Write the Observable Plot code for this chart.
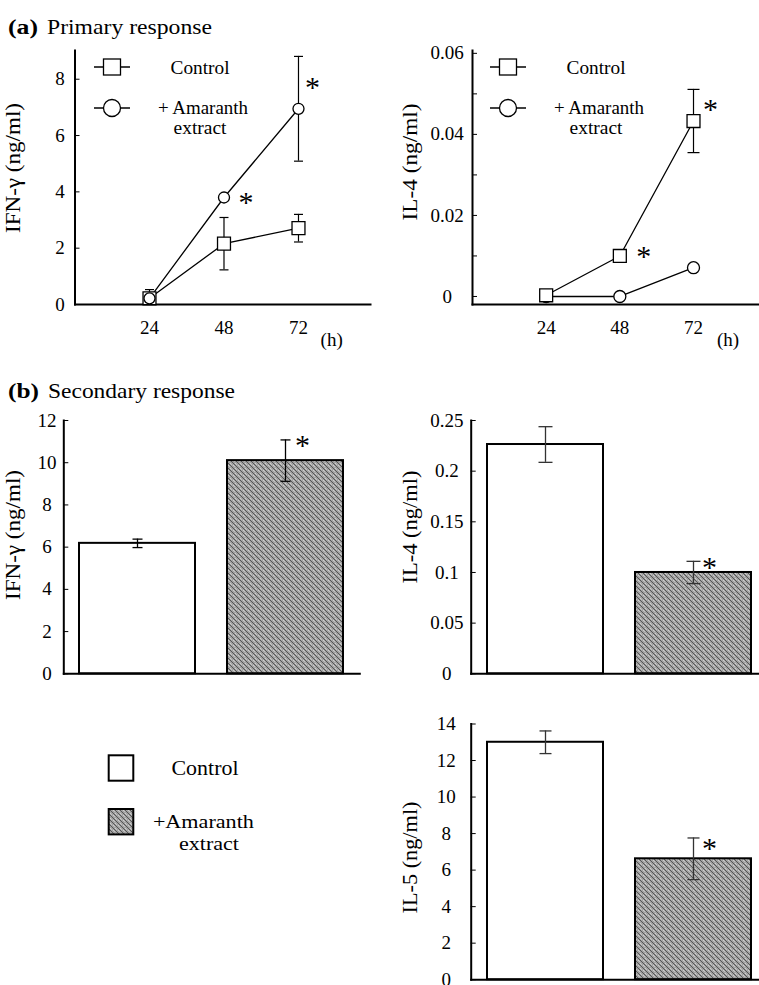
<!DOCTYPE html>
<html><head><meta charset="utf-8">
<script src="https://cdn.jsdelivr.net/npm/d3@7"></script>
<script src="https://cdn.jsdelivr.net/npm/@observablehq/plot@0.6"></script>
<style>
html,body{margin:0;padding:0;background:#fff;overflow:hidden;}
#page{position:relative;width:759px;height:985px;overflow:hidden;font-family:"Liberation Serif","Times New Roman",serif;background:#fff;}
.panel{position:absolute;}
.panel svg, .panel svg text{font-family:"Liberation Serif","Times New Roman",serif;}
#overlay{position:absolute;left:0;top:0;pointer-events:none;}
#overlay text{font-family:"Liberation Serif","Times New Roman",serif;}
</style></head><body><div id="page"></div>
<script>
// ---------- data ----------
const hours = [24, 48, 72];
const hourTicks = [24, 48, 72];
const seriesNames = ["Control", "+ Amaranth extract"];

// (a) primary response, IFN-γ (ng/ml)
const primIFNControl = [0.22, 2.16, 2.71];
const primIFNControlErr = [0.31, 0.93, 0.49];
const primIFNAmaranth = [0.22, 3.80, 6.95];
const primIFNAmaranthErr = [0, 0, 1.86];
const primIFNSigControl = [false, false, false];
const primIFNSigAmaranth = [false, true, true];

// (a) primary response, IL-4 (ng/ml)
const primIL4Control = [0.0003, 0.0100, 0.0433];
const primIL4ControlErr = [0, 0, 0.0078];
const primIL4Amaranth = [0, 0, 0.0071];
const primIL4AmaranthErr = [0, 0, 0];
const primIL4SigControl = [false, true, true];
const primIL4SigAmaranth = [false, false, false];

// (b) secondary response
const groups = ["Control", "+Amaranth extract"];
const secIFN = [6.18, 10.1];
const secIFNErr = [0.2, 0.98];
const secIL4 = [0.2263, 0.100];
const secIL4Err = [0.0176, 0.011];
const secIL5 = [13.0, 6.62];
const secIL5Err = [0.62, 1.14];
const secSig = [false, true];

// tick labels
const ticksIFN1 = [0, 2, 4, 6, 8];
const ticksIL4a = [0, 0.02, 0.04, 0.06];
const minorIL4a = [0.01, 0.03, 0.05];
const ticksIFN2 = [0, 2, 4, 6, 8, 10, 12];
const ticksIL4b = [0, 0.05, 0.1, 0.15, 0.2, 0.25];
const ticksIL5 = [0, 2, 4, 6, 8, 10, 12, 14];

// ---------- helpers ----------
const FONT = '"Liberation Serif", "Times New Roman", serif';
const page = document.getElementById("page");
const capSymbol = {draw(ctx, size) { const w = Math.sqrt(size / Math.PI); ctx.moveTo(-w, 0); ctx.lineTo(w, 0); }};
const baseStyle = {fontFamily: FONT, fontSize: "19px", overflow: "visible", background: "none", color: "black"};

function place(svg, left, top) {
  const div = document.createElement("div");
  div.className = "panel";
  div.style.left = left + "px";
  div.style.top = top + "px";
  div.appendChild(svg);
  page.appendChild(div);
}

function linePanel(o) {
  const rows = [];
  hours.forEach((h, i) => {
    rows.push({hour: h, value: o.c[i], err: o.cErr[i], series: seriesNames[0], sig: o.cSig[i]});
    rows.push({hour: h, value: o.a[i], err: o.aErr[i], series: seriesNames[1], sig: o.aSig[i]});
  });
  const withErr = rows.filter(d => d.err > 0);
  const lo = d => Math.max(o.yDomain[0], d.value - d.err);
  const hi = d => d.value + d.err;
  const fw = o.width - o.ml - o.mr;
  const sigRows = rows.filter(d => d.sig);
  const starMarks = sigRows.map((d, k) => Plot.text([d], {x: "hour", y: "value", text: () => "*", fontSize: 30, lineAnchor: "middle", dx: o.star[k][0], dy: o.star[k][1]}));
  const squares = Plot.dot(rows.filter(d => d.series === seriesNames[0]), {x: "hour", y: "value", symbol: "square", r: o.sqR, fill: "white", stroke: "black", strokeWidth: 1.3});
  const circles = Plot.dot(rows.filter(d => d.series === seriesNames[1]), {x: "hour", y: "value", symbol: "circle", r: o.ciR, fill: "white", stroke: "black", strokeWidth: 1.3});
  return Plot.plot({
    width: o.width, height: o.height,
    marginLeft: o.ml, marginRight: o.mr, marginTop: o.mt, marginBottom: o.mb,
    style: baseStyle,
    x: {domain: o.xDomain},
    y: {domain: o.yDomain},
    marks: [
      Plot.frame({anchor: "left", strokeWidth: 2}),
      Plot.frame({anchor: "bottom", strokeWidth: 2}),
      Plot.tickY(o.yTicks.concat(o.minor || []), {y: d => d, insetRight: fw - 5, stroke: "black", strokeWidth: 1}),
      Plot.axisY(o.yTicks, {tickSize: 0, tickPadding: o.tp, textAnchor: "middle", label: null, tickFormat: d => String(d)}),
      Plot.axisX(hourTicks, {tickSize: 0, tickPadding: 16, label: null}),
      Plot.ruleX(withErr, {x: "hour", y1: lo, y2: hi, stroke: "black", strokeWidth: 1.2}),
      Plot.dot(withErr, {x: "hour", y: hi, symbol: capSymbol, r: o.cap, stroke: "black", strokeWidth: 1.2}),
      Plot.dot(withErr.filter(d => d.value - d.err > o.yDomain[0]), {x: "hour", y: lo, symbol: capSymbol, r: o.cap, stroke: "black", strokeWidth: 1.2}),
      Plot.line(rows, {x: "hour", y: "value", z: "series", stroke: "black", strokeWidth: 1.3}),
      ...(o.squaresOnTop ? [circles, squares] : [squares, circles]),
      ...starMarks
    ]
  });
}

function barPanel(o) {
  const rows = groups.map((g, i) => ({group: g, value: o.v[i], err: o.e[i], sig: secSig[i]}));
  const fw = o.width - o.ml - o.mr;
  const lo = d => d.value - d.err, hi = d => d.value + d.err;
  return Plot.plot({
    width: o.width, height: o.height,
    marginLeft: o.ml, marginRight: o.mr, marginTop: o.mt, marginBottom: o.mb,
    style: baseStyle,
    x: {type: "band", domain: groups, paddingInner: 0.213, paddingOuter: o.po, align: o.align, axis: null},
    y: {domain: o.yDomain},
    color: {domain: groups, range: ["white", "url(#hatch)"]},
    marks: [
      Plot.barY(rows, {x: "group", y: "value", fill: "group", stroke: "black", strokeWidth: 2}),
      Plot.frame({anchor: "left", strokeWidth: 2}),
      Plot.frame({anchor: "bottom", strokeWidth: 2}),
      Plot.tickY(o.yTicks, {y: d => d, insetRight: fw - 5, stroke: "black", strokeWidth: 1}),
      Plot.axisY(o.yTicks, {tickSize: 0, tickPadding: o.tp, textAnchor: "middle", label: null, tickFormat: d => String(d)}),
      Plot.ruleX(rows, {x: "group", y1: lo, y2: hi, stroke: o.errColor, strokeWidth: 1.3}),
      Plot.dot(rows, {x: "group", y: hi, symbol: capSymbol, r: o.cap, stroke: o.errColor, strokeWidth: 1.3}),
      Plot.dot(rows, {x: "group", y: lo, symbol: capSymbol, r: o.cap, stroke: o.errColor, strokeWidth: 1.3}),
      Plot.text(rows.filter(d => d.sig), {x: "group", y: hi, text: () => "*", fontSize: 30, lineAnchor: "middle", dx: o.star[0], dy: o.star[1]})
    ]
  });
}

// ---------- panels ----------
place(linePanel({
  c: primIFNControl, cErr: primIFNControlErr, a: primIFNAmaranth, aErr: primIFNAmaranthErr,
  cSig: primIFNSigControl, aSig: primIFNSigAmaranth,
  width: 380, height: 320, ml: 74.5, mr: 10, mt: 20, mb: 46,
  xDomain: [0, 95.2], yDomain: [0, 9.02], yTicks: ticksIFN1, tp: 15,
  cap: 4.5, sqR: 7.3, ciR: 5.5, squaresOnTop: false,
  star: [[22, 4.5], [14, -21.5]]
}), 0, 30);

place(linePanel({
  c: primIL4Control, cErr: primIL4ControlErr, a: primIL4Amaranth, aErr: primIL4AmaranthErr,
  cSig: primIL4SigControl, aSig: primIL4SigAmaranth,
  width: 379, height: 320, ml: 92, mr: 0, mt: 20, mb: 46,
  xDomain: [0, 93.5], yDomain: [-0.00198, 0.0607], yTicks: ticksIL4a, minor: minorIL4a, tp: 25.3,
  cap: 6, sqR: 7.3, ciR: 6, squaresOnTop: true,
  star: [[24, 0.5], [17, -11.5]]
}), 380, 30);

place(barPanel({
  v: secIFN, e: secIFNErr, width: 380, height: 290, ml: 63.3, mr: 20.7, mt: 20, mb: 16.7,
  po: 0.1, align: 0.5, yDomain: [0, 12], yTicks: ticksIFN2, tp: 16.8, cap: 5, errColor: "black",
  star: [17, 5.5]
}), 0, 400);

place(barPanel({
  v: secIL4, e: secIL4Err, width: 379, height: 290, ml: 90.7, mr: 0, mt: 20, mb: 16.7,
  po: 0.074, align: 0.7, yDomain: [0, 0.25], yTicks: ticksIL4b, tp: 24.4, cap: 7, errColor: "#333",
  star: [16, 6.5]
}), 380, 400);

place(barPanel({
  v: secIL5, e: secIL5Err, width: 379, height: 285, ml: 90.7, mr: 0, mt: 23.5, mb: 5.8,
  po: 0.074, align: 0.7, yDomain: [0, 14], yTicks: ticksIL5, tp: 25, cap: 6, errColor: "#333",
  star: [16, 10.5]
}), 380, 700);

// ---------- overlay: titles, axis titles, legends ----------
const ov = d3.select(page).append("svg").attr("id", "overlay").attr("width", 759).attr("height", 985)
  .attr("font-family", FONT);
const defs = ov.append("defs");
const pat = defs.append("pattern").attr("id", "hatch").attr("width", 5).attr("height", 5).attr("patternUnits", "userSpaceOnUse");
pat.append("rect").attr("width", 5).attr("height", 5).attr("fill", "#a2a2a2");
pat.append("rect").attr("x", 3).attr("y", 0).attr("width", 1).attr("height", 1).attr("fill", "#d0d0d0");
pat.append("rect").attr("x", 0).attr("y", 3).attr("width", 1).attr("height", 1).attr("fill", "#d0d0d0");
pat.append("rect").attr("x", 4).attr("y", 1).attr("width", 1).attr("height", 1).attr("fill", "#c4c4c4");
pat.append("rect").attr("x", 1).attr("y", 4).attr("width", 1).attr("height", 1).attr("fill", "#c4c4c4");
pat.append("path").attr("d", "M-1,-1L6,6M-1,4L1,6M4,-1L6,1").attr("stroke", "#555").attr("stroke-width", 1);

function txt(x, y, s, size, len, opts = {}) {
  const t = ov.append("text").attr("x", x).attr("y", y).attr("font-size", size).text(s);
  if (len) t.attr("textLength", len).attr("lengthAdjust", "spacingAndGlyphs");
  if (opts.anchor) t.attr("text-anchor", opts.anchor);
  if (opts.central) t.attr("dominant-baseline", "central");
  if (opts.bold) t.attr("font-weight", "bold");
  return t;
}
function ylab(x, y, s, len) {
  ov.append("text").attr("transform", `translate(${x},${y}) rotate(-90)`).attr("text-anchor", "middle")
    .attr("font-size", 22).attr("textLength", len).attr("lengthAdjust", "spacingAndGlyphs").text(s);
}

// panel titles
txt(8, 34, "(a)", 20, 30, {bold: true});
txt(47, 34, "Primary response", 21, 165);
txt(8, 397.5, "(b)", 20, 31, {bold: true});
txt(48, 397.5, "Secondary response", 21, 187);

// y-axis titles
ylab(20, 168, "IFN-γ (ng/ml)", 130);
ylab(416.7, 162, "IL-4 (ng/ml)", 117);
ylab(20, 535, "IFN-γ (ng/ml)", 130);
ylab(417.3, 527, "IL-4 (ng/ml)", 113);
ylab(417, 857.5, "IL-5 (ng/ml)", 112);

// x-axis unit
txt(331.7, 339, "(h)", 19, null, {anchor: "middle", central: true});
txt(728, 339, "(h)", 19, null, {anchor: "middle", central: true});

// line legends
function lineLegend(x0, x1, ySq, yCi, tx) {
  const cx = (x0 + x1) / 2;
  ov.append("line").attr("x1", x0).attr("x2", x1).attr("y1", ySq).attr("y2", ySq).attr("stroke", "black").attr("stroke-width", 1.3);
  ov.append("rect").attr("x", cx - 8.5).attr("y", ySq - 8).attr("width", 17).attr("height", 16).attr("fill", "white").attr("stroke", "black").attr("stroke-width", 1.3);
  ov.append("line").attr("x1", x0).attr("x2", x1).attr("y1", yCi).attr("y2", yCi).attr("stroke", "black").attr("stroke-width", 1.3);
  ov.append("circle").attr("cx", cx).attr("cy", yCi).attr("r", 8.5).attr("fill", "white").attr("stroke", "black").attr("stroke-width", 1.3);
  txt(tx, ySq, "Control", 19, 59, {anchor: "middle", central: true});
  txt(tx + 3, yCi, "+ Amaranth", 18, 90, {anchor: "middle", central: true});
  txt(tx, yCi + 19.5, "extract", 18, 53, {anchor: "middle", central: true});
}
lineLegend(94, 130, 67, 108, 200);
lineLegend(490, 526, 67, 108, 596);

// bar legend
ov.append("rect").attr("x", 108.7).attr("y", 755.3).attr("width", 24.6).attr("height", 25.4).attr("fill", "white").attr("stroke", "black").attr("stroke-width", 2);
ov.append("rect").attr("x", 108.7).attr("y", 809).attr("width", 24.6).attr("height", 25.4).attr("fill", "url(#hatch)").attr("stroke", "black").attr("stroke-width", 2);
txt(205, 768, "Control", 20, 67, {anchor: "middle", central: true});
txt(203.4, 821, "+Amaranth", 19, 101, {anchor: "middle", central: true});
txt(209, 843, "extract", 19, 60, {anchor: "middle", central: true});
</script>
</body></html>
